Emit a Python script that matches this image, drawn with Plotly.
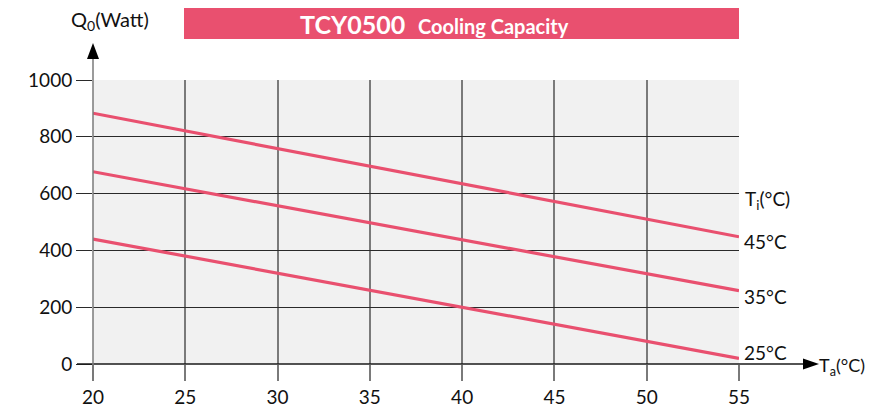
import plotly.graph_objects as go

# Data
ta = [20, 55]
q_45 = [883, 448]
q_35 = [677, 258]
q_25 = [440, 20]
series_names = ["45°C", "35°C", "25°C"]
label_y = [433, 236, 39]
x_ticks = [20, 25, 30, 35, 40, 45, 50, 55]
y_ticks = [0, 200, 400, 600, 800, 1000]

LINE_COLOR = "#E9506F"
FONT = "Lato"

# reference pixel geometry -> paper coordinates
PX_L, PX_R, PY_T, PY_B = 93, 739, 80, 364
def px(xp):
    return (xp - PX_L) / (PX_R - PX_L)
def py(yp):
    return (PY_B - yp) / (PY_B - PY_T)

fig = go.Figure()
for name, q in zip(series_names, [q_45, q_35, q_25]):
    fig.add_trace(go.Scatter(x=ta, y=q, mode="lines", name=name,
                             line=dict(color=LINE_COLOR, width=3.2),
                             showlegend=False, hoverinfo="skip"))

# body has 8px margin in the page -> shrink figure and margins accordingly
W, H = 866, 400
fig.update_layout(
    width=W, height=H,
    margin=dict(l=PX_L - 8, r=W - (PX_R - 8), t=PY_T - 8, b=H - (PY_B - 8)),
    paper_bgcolor="white",
    plot_bgcolor="#F1F1F1",
    font=dict(family=FONT, size=19, color="#111111"),
    xaxis=dict(range=[20, 55], tickvals=x_ticks, showgrid=True, automargin=False,
               gridcolor="#7a7a7a", gridwidth=1.5, zeroline=False,
               ticks="outside", ticklen=16, tickcolor="#7a7a7a", tickwidth=1.5,
               showline=False, tickfont=dict(size=19, family=FONT)),
    yaxis=dict(range=[0, 1000], tickvals=y_ticks, showgrid=True, automargin=False,
               gridcolor="#2a2a2a", gridwidth=1, zeroline=False,
               ticks="outside", ticklen=16, tickcolor="#2a2a2a", tickwidth=1,
               showline=False, tickfont=dict(size=19, family=FONT)),
)

# axis lines with arrowheads (paper coordinates)
fig.add_shape(type="line", xref="paper", yref="paper", x0=px(77), x1=px(804),
              y0=0, y1=0, line=dict(color="#1a1a1a", width=1.5), layer="above")
fig.add_shape(type="line", xref="paper", yref="paper", x0=0, x1=0,
              y0=py(379), y1=py(58), line=dict(color="#7a7a7a", width=1.5), layer="above")
fig.add_shape(type="path", xref="paper", yref="paper",
              path=f"M {px(819)} {py(364)} L {px(803)} {py(358.5)} L {px(803)} {py(369.5)} Z",
              fillcolor="#000000", line=dict(width=0), layer="above")
fig.add_shape(type="path", xref="paper", yref="paper",
              path=f"M {px(93)} {py(43)} L {px(87)} {py(59)} L {px(99)} {py(59)} Z",
              fillcolor="#000000", line=dict(width=0), layer="above")

# title bar
fig.add_shape(type="rect", xref="paper", yref="paper", x0=px(184), x1=px(739),
              y0=py(39), y1=py(8), fillcolor=LINE_COLOR, line=dict(width=0), layer="above")
fig.add_annotation(x=px(434), y=py(23.5), xref="paper", yref="paper",
                   text="<b>TCY0500</b>  <b><span style='font-size:20px'>Cooling Capacity</span></b>",
                   showarrow=False, font=dict(family=FONT, size=25, color="white"),
                   xanchor="center", yanchor="middle")

# axis labels
fig.add_annotation(x=px(110), y=py(21), xref="paper", yref="paper",
                   text="Q<sub>0</sub>(Watt)", showarrow=False,
                   font=dict(family=FONT, size=20), xanchor="center", yanchor="middle")
fig.add_annotation(x=px(818), y=py(366), xref="paper", yref="paper",
                   text="T<sub>a</sub>(°C)", showarrow=False, borderpad=0,
                   xanchor="left", yanchor="middle", font=dict(family=FONT, size=18))
fig.add_annotation(x=px(743), y=py(200), xref="paper", yref="paper",
                   text="T<sub>i</sub>(°C)", showarrow=False,
                   xanchor="left", yanchor="middle", font=dict(family=FONT, size=19))
for name, yv in zip(series_names, label_y):
    fig.add_annotation(x=55, y=yv, xref="x", yref="y", text=name,
                       showarrow=False, xanchor="left", yanchor="middle", xshift=3,
                       font=dict(family=FONT, size=19))

fig.write_html("out.html")
